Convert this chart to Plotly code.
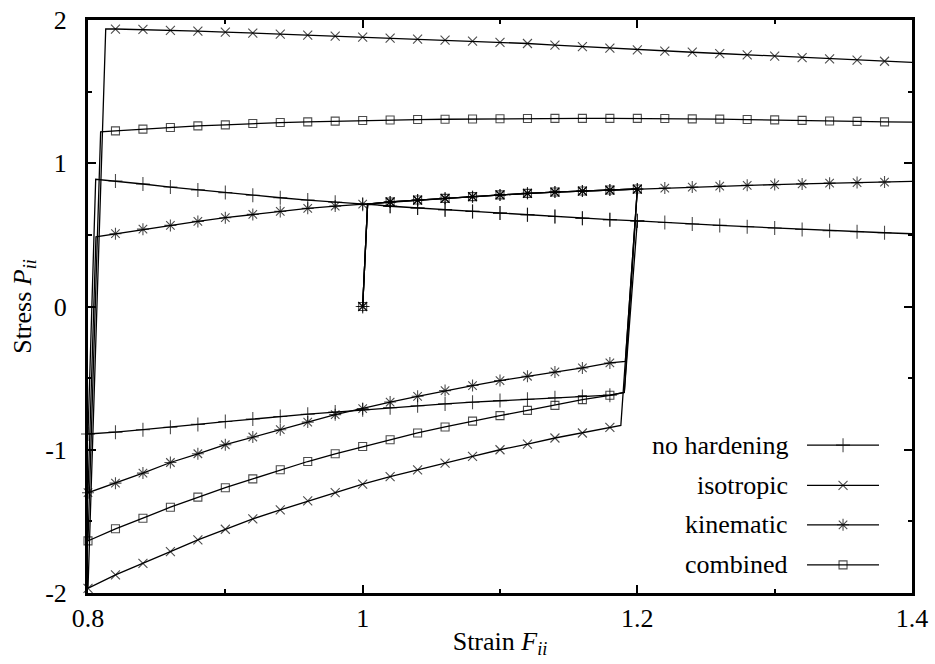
import plotly.graph_objects as go

# strain steps (markers every 0.02)
load_x = [1.02, 1.04, 1.06, 1.08, 1.10, 1.12, 1.14, 1.16, 1.18, 1.20]
comp_x = [1.18, 1.16, 1.14, 1.12, 1.10, 1.08, 1.06, 1.04, 1.02, 1.00,
          0.98, 0.96, 0.94, 0.92, 0.90, 0.88, 0.86, 0.84, 0.82, 0.80]
reload_x = [0.82, 0.84, 0.86, 0.88, 0.90, 0.92, 0.94, 0.96, 0.98, 1.00,
            1.02, 1.04, 1.06, 1.08, 1.10, 1.12, 1.14, 1.16, 1.18, 1.20,
            1.22, 1.24, 1.26, 1.28, 1.30, 1.32, 1.34, 1.36, 1.38, 1.40]

start_pt = (1.0, 0.0)
first_yield = (1.0036, 0.715)

# no hardening
nohard_load = [0.700, 0.688, 0.676, 0.664, 0.652, 0.640, 0.628, 0.616, 0.606, 0.598]
nohard_comp_yield = (1.1905, -0.600)
nohard_comp = [-0.619, -0.628, -0.637, -0.647, -0.657, -0.668, -0.680, -0.693, -0.706, -0.720,
               -0.737, -0.752, -0.768, -0.785, -0.803, -0.823, -0.843, -0.860, -0.877, -0.890]
nohard_reload_yield = (0.8056, 0.888)
nohard_reload = [0.876, 0.855, 0.834, 0.814, 0.795, 0.777, 0.759, 0.743, 0.728, 0.713,
                 0.700, 0.688, 0.676, 0.664, 0.652, 0.640, 0.628, 0.616, 0.606, 0.598,
                 0.586, 0.576, 0.566, 0.557, 0.548, 0.538, 0.529, 0.522, 0.515, 0.508]

# first loading is the same for all hardening models
hard_load = [0.730, 0.743, 0.755, 0.767, 0.779, 0.790, 0.799, 0.806, 0.813, 0.820]

# isotropic
iso_comp_yield = (1.188, -0.830)
iso_comp = [-0.844, -0.883, -0.918, -0.960, -1.000, -1.047, -1.093, -1.140, -1.187, -1.240,
            -1.299, -1.357, -1.420, -1.483, -1.555, -1.629, -1.711, -1.793, -1.874, -1.967]
iso_reload_yield = (0.8129, 1.937)
iso_reload = [1.937, 1.934, 1.928, 1.923, 1.916, 1.909, 1.902, 1.895, 1.888, 1.881,
              1.874, 1.867, 1.860, 1.852, 1.844, 1.836, 1.825, 1.814, 1.803, 1.792,
              1.783, 1.775, 1.766, 1.757, 1.748, 1.738, 1.729, 1.720, 1.712, 1.704]

# kinematic
kin_comp_yield = (1.1913, -0.383)
kin_comp = [-0.394, -0.429, -0.457, -0.487, -0.517, -0.552, -0.587, -0.627, -0.667, -0.713,
            -0.755, -0.807, -0.860, -0.911, -0.965, -1.028, -1.089, -1.163, -1.233, -1.300]
kin_reload_yield = (0.8058, 0.487)
kin_reload = [0.508, 0.540, 0.566, 0.594, 0.620, 0.643, 0.664, 0.685, 0.701, 0.715,
              0.730, 0.743, 0.755, 0.767, 0.779, 0.790, 0.799, 0.806, 0.813, 0.820,
              0.827, 0.834, 0.840, 0.846, 0.851, 0.856, 0.861, 0.865, 0.869, 0.873]

# combined
comb_comp_yield = (1.1905, -0.600)
comb_comp = [-0.620, -0.650, -0.690, -0.725, -0.762, -0.800, -0.841, -0.883, -0.930, -0.977,
             -1.028, -1.082, -1.140, -1.203, -1.265, -1.331, -1.401, -1.478, -1.552, -1.636]
comb_reload_yield = (0.8092, 1.219)
comb_reload = [1.226, 1.238, 1.250, 1.261, 1.268, 1.277, 1.284, 1.289, 1.294, 1.298,
               1.302, 1.305, 1.307, 1.309, 1.311, 1.312, 1.313, 1.313, 1.313, 1.313,
               1.312, 1.310, 1.308, 1.305, 1.303, 1.299, 1.295, 1.292, 1.289, 1.287]

names = ["no hardening", "isotropic", "kinematic", "combined"]
symbols = ["cross-thin-open", "x-thin-open", "asterisk-open", "square-open"]
msizes = [10, 9, 10, 8]

models = [
    (nohard_load, nohard_comp_yield, nohard_comp, nohard_reload_yield, nohard_reload),
    (hard_load, iso_comp_yield, iso_comp, iso_reload_yield, iso_reload),
    (hard_load, kin_comp_yield, kin_comp, kin_reload_yield, kin_reload),
    (hard_load, comb_comp_yield, comb_comp, comb_reload_yield, comb_reload),
]

FONT = "Liberation Serif"
FS = 26


def build_path(load_y, cy, comp_y, ry, reload_y, ms):
    xs = [start_pt[0], first_yield[0]] + load_x + [cy[0]] + comp_x + [ry[0]] + reload_x
    ys = [start_pt[1], first_yield[1]] + load_y + [cy[1]] + comp_y + [ry[1]] + reload_y
    # yield corners and the last point carry no symbol
    sz = [ms, 0] + [ms] * len(load_x) + [0] + [ms] * len(comp_x) + [0] + [ms] * (len(reload_x) - 1) + [0]
    return xs, ys, sz


fig = go.Figure()

for name, sym, ms, m in zip(names, symbols, msizes, models):
    xs, ys, sz = build_path(*m, ms)
    fig.add_trace(go.Scatter(x=xs, y=ys, mode="lines+markers", name=name, showlegend=False,
                             line=dict(color="black", width=1.3),
                             marker=dict(symbol=sym, size=sz, color="black", line=dict(color="black", width=1.1)),
                             cliponaxis=False))

# gnuplot-style key: text on the left, sample on the right
key_rows = [0.258, 0.188, 0.119, 0.049]
key_x = [0.0, 0.5, 1.0]
for name, sym, ms, ky in zip(names, symbols, msizes, key_rows):
    fig.add_trace(go.Scatter(x=key_x, y=[ky] * 3, xaxis="x2", yaxis="y2", mode="lines+markers",
                             showlegend=False, line=dict(color="black", width=1.3),
                             marker=dict(symbol=sym, size=[0, ms, 0], color="black",
                                         line=dict(color="black", width=1.1)),
                             cliponaxis=False))
    fig.add_annotation(text=name, xref="paper", yref="paper", x=0.852, y=ky,
                       xanchor="right", yanchor="middle", showarrow=False,
                       font=dict(family=FONT, size=FS, color="black"))

axis_common = dict(showline=True, linecolor="black", linewidth=3, mirror="allticks",
                   ticks="inside", ticklen=8, tickwidth=2, tickcolor="black",
                   showgrid=False, zeroline=False, automargin=False, ticklabeloverflow="allow",
                   tickfont=dict(family=FONT, size=FS, color="black"))

fig.update_layout(
    width=935, height=664,
    margin=dict(l=88, r=23, t=20, b=71),
    paper_bgcolor="white", plot_bgcolor="rgba(0,0,0,0)",
    xaxis=dict(range=[0.8, 1.4], tickvals=[0.8, 1.0, 1.2, 1.4], ticktext=["0.8", "1", "1.2", "1.4"],
               minor=dict(ticks="inside", ticklen=4, tickwidth=2, tickcolor="black", tickvals=[0.9, 1.1, 1.3]),
               ticklabelstandoff=0,
               title=dict(text="Strain <i>F</i><sub><i>ii</i></sub>", standoff=0,
                          font=dict(family=FONT, size=FS, color="black")),
               **axis_common),
    yaxis=dict(range=[-2, 2], tickvals=[-2, -1, 0, 1, 2], ticktext=["-2", "-1", "0", "1", "2"],
               minor=dict(ticks="inside", ticklen=4, tickwidth=2, tickcolor="black",
                          tickvals=[-1.5, -0.5, 0.5, 1.5]),
               ticklabelstandoff=13,
               title=dict(text="Stress <i>P</i><sub><i>ii</i></sub>", standoff=7,
                          font=dict(family=FONT, size=FS, color="black")),
               **axis_common),
    xaxis2=dict(domain=[0.8726, 0.96], range=[0, 1], anchor="y2", visible=False, fixedrange=True),
    yaxis2=dict(domain=[0, 1], range=[0, 1], anchor="x2", visible=False, fixedrange=True),
)

# drop the default 8px page margin so the figure fills the window
fig.write_html("out.html", config={"displayModeBar": False},
               post_script="document.body.style.margin='0';")
